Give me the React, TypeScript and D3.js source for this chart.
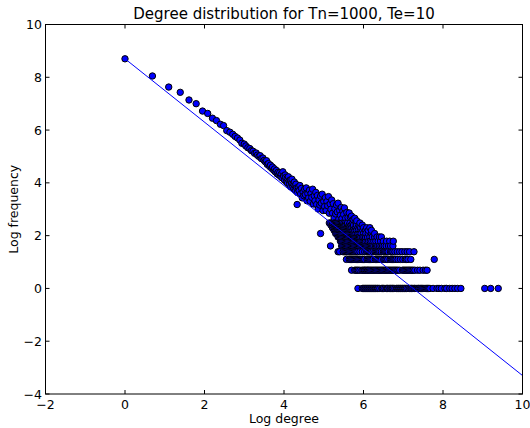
import React from 'react';
import * as d3 from 'd3';

// Low-degree trail and the upper cloud (log degree, log frequency)
const headLogDegree = [
  0.00, 0.69, 1.10, 1.39, 1.61, 1.79, 1.95, 2.08, 2.20, 2.30, 2.40, 2.48, 2.56, 2.64, 2.71, 2.77, 2.83, 2.89, 2.94,
  3.00, 3.04, 3.09, 3.14, 3.18, 3.22, 3.26, 3.30, 3.33, 3.37, 3.40, 3.43, 3.47, 3.50, 3.53, 3.56, 3.58, 3.61, 3.64,
  3.66, 3.69, 3.71, 3.74, 3.76, 3.78, 3.81, 3.83, 3.85, 3.87, 3.89, 3.91, 3.93, 3.95, 3.97, 3.99, 4.01, 4.03, 4.04,
  4.06, 4.08, 4.09, 4.11, 4.13, 4.14, 4.16, 4.17, 4.19, 4.20, 4.22, 4.23, 4.25, 4.26, 4.28, 4.29, 4.30, 4.32, 4.33,
  4.34, 4.36, 4.38, 4.40, 4.42, 4.44, 4.46, 4.48, 4.50, 4.52, 4.54, 4.56, 4.58, 4.60, 4.62, 4.64, 4.66, 4.68, 4.70,
  4.72, 4.74, 4.76, 4.78, 4.80, 4.82, 4.84, 4.86, 4.88, 4.90, 4.92, 4.94, 4.96, 4.98, 5.00, 5.02, 5.04, 5.06, 5.08,
  5.10, 5.12, 5.14, 5.16, 5.18, 5.20, 5.22, 5.24, 5.26, 5.28, 5.30, 5.32, 5.34, 5.36, 5.38, 5.40, 5.42, 5.44, 5.46,
  5.48, 5.50, 5.52, 5.55, 5.58, 5.61, 5.64, 5.67, 5.70, 5.74, 5.78, 5.83,
];
const headLogFreq = [
  8.70, 8.05, 7.63, 7.43, 7.14, 7.00, 6.72, 6.63, 6.45, 6.36, 6.22, 6.17, 5.98, 5.92, 5.84, 5.76, 5.70, 5.62, 5.50,
  5.47, 5.40, 5.33, 5.30, 5.22, 5.20, 5.12, 5.13, 5.05, 5.00, 5.03, 4.92, 4.94, 4.85, 4.80, 4.84, 4.70, 4.73, 4.62,
  4.67, 4.55, 4.60, 4.48, 4.53, 4.42, 4.47, 4.34, 4.40, 4.30, 4.38, 4.25, 4.33, 4.19, 4.42, 4.26, 4.11, 4.30, 4.20,
  4.04, 4.17, 3.99, 4.23, 4.08, 3.93, 4.11, 3.85, 4.00, 4.14, 3.87, 3.97, 3.78, 4.03, 3.89, 3.71, 3.95, 3.81, 3.18,
  3.63, 3.83, 3.70, 3.90, 3.58, 3.79, 3.43, 3.65, 3.51, 3.76, 3.55, 3.81, 3.32, 3.59, 3.43, 3.72, 3.30, 3.60, 3.45,
  3.76, 3.20, 3.51, 3.32, 3.64, 3.18, 3.52, 3.01, 3.35, 3.16, 3.50, 3.23, 3.57, 2.95, 3.30, 3.10, 3.44, 2.95, 3.29,
  3.13, 3.48, 2.85, 3.20, 3.00, 3.35, 2.85, 3.21, 2.67, 3.02, 2.82, 3.16, 2.90, 3.23, 2.63, 2.95, 2.77, 3.07, 2.65,
  2.93, 2.80, 3.05, 2.66, 2.88, 2.69, 2.86, 2.70, 2.74, 2.61, 2.66, 2.56,
];

// Low-count rows: log frequency of each row and the log degrees seen on it
const rowLogFreq = [0, 0.69, 1.10, 1.39, 1.61, 1.79, 1.95, 2.08, 2.20, 2.30, 2.40, 2.48];
const rowLogDegrees = [
  [5.86, 5.97, 6.00, 6.03, 6.05, 6.08, 6.10, 6.13, 6.15, 6.18, 6.20, 6.23, 6.25, 6.28, 6.30, 6.32, 6.35, 6.37, 6.41,
   6.46, 6.48, 6.50, 6.54, 6.58, 6.60, 6.62, 6.66, 6.68, 6.71, 6.73, 6.75, 6.79, 6.83, 6.85, 6.88, 6.90, 6.93, 6.95,
   6.98, 7.00, 7.03, 7.05, 7.08, 7.12, 7.16, 7.19, 7.21, 7.24, 7.27, 7.29, 7.32, 7.35, 7.38, 7.40, 7.43, 7.46, 7.49,
   7.52, 7.55, 7.58, 7.61, 7.64, 7.67, 7.75, 7.85, 7.90, 7.96, 8.05, 8.09, 8.17, 8.23, 8.30, 8.37, 8.45, 9.05, 9.20, 9.39],
  [5.70, 5.78, 5.81, 5.84, 5.87, 5.91, 5.96, 5.99, 6.02, 6.04, 6.07, 6.10, 6.12, 6.15, 6.18, 6.21, 6.24, 6.27, 6.30,
   6.33, 6.36, 6.39, 6.42, 6.45, 6.48, 6.51, 6.54, 6.57, 6.60, 6.63, 6.66, 6.69, 6.72, 6.75, 6.78, 6.81, 6.84, 6.87,
   6.91, 6.98, 7.01, 7.04, 7.07, 7.10, 7.13, 7.16, 7.19, 7.22, 7.25, 7.29, 7.36, 7.42, 7.50, 7.56, 7.60],
  [5.57, 5.64, 5.67, 5.70, 5.73, 5.76, 5.79, 5.82, 5.85, 5.88, 5.91, 5.94, 5.97, 6.00, 6.03, 6.09, 6.12, 6.15, 6.18,
   6.21, 6.24, 6.30, 6.33, 6.36, 6.39, 6.42, 6.45, 6.51, 6.54, 6.57, 6.61, 6.67, 6.70, 6.73, 6.76, 6.79, 6.82, 6.87,
   6.93, 6.99, 7.05, 7.08, 7.12, 7.19, 7.78],
  [5.36, 5.40, 5.49, 5.53, 5.56, 5.59, 5.62, 5.65, 5.68, 5.71, 5.74, 5.77, 5.80, 5.83, 5.86, 5.91, 5.97, 6.03, 6.08,
   6.11, 6.14, 6.17, 6.20, 6.24, 6.29, 6.32, 6.35, 6.38, 6.41, 6.45, 6.50, 6.53, 6.56, 6.59, 6.62, 6.68, 6.71, 6.74,
   6.79, 6.85, 6.91, 6.97, 7.04, 7.10, 7.16, 7.27],
  [5.17, 5.45, 5.48, 5.51, 5.54, 5.57, 5.60, 5.63, 5.66, 5.69, 5.72, 5.75, 5.78, 5.81, 5.84, 5.87, 5.90, 5.93, 5.96,
   5.99, 6.02, 6.05, 6.08, 6.11, 6.14, 6.17, 6.20, 6.23, 6.26, 6.30, 6.33, 6.36, 6.40, 6.44, 6.48, 6.52, 6.57, 6.63,
   6.68, 6.74],
  [5.42, 5.45, 5.48, 5.51, 5.54, 5.57, 5.60, 5.63, 5.66, 5.69, 5.72, 5.75, 5.78, 5.81, 5.84, 5.87, 5.90, 5.93, 5.96,
   5.99, 6.02, 6.05, 6.09, 6.13, 6.17, 6.21, 6.26, 6.31, 6.37, 6.43, 6.50, 6.58, 6.66, 6.75],
  [5.36, 5.39, 5.42, 5.45, 5.48, 5.51, 5.54, 5.57, 5.60, 5.63, 5.66, 5.69, 5.72, 5.75, 5.78, 5.81, 5.84, 5.87, 5.90,
   5.93, 5.97, 6.01, 6.05, 6.10, 6.16, 6.22, 6.28, 6.34, 6.40, 6.45],
  [4.92, 5.30, 5.33, 5.36, 5.39, 5.42, 5.45, 5.48, 5.51, 5.54, 5.57, 5.60, 5.63, 5.66, 5.69, 5.72, 5.75, 5.78, 5.81,
   5.85, 5.89, 5.94, 6.00, 6.06, 6.12, 6.20, 6.28],
  [5.26, 5.29, 5.32, 5.35, 5.38, 5.41, 5.44, 5.47, 5.50, 5.53, 5.56, 5.59, 5.62, 5.65, 5.68, 5.71, 5.74, 5.78, 5.82,
   5.87, 5.92, 5.98, 6.05, 6.12, 6.20],
  [5.22, 5.26, 5.29, 5.32, 5.35, 5.38, 5.41, 5.44, 5.47, 5.50, 5.53, 5.56, 5.59, 5.62, 5.65, 5.68, 5.71, 5.75, 5.80,
   5.86, 5.93, 6.00, 6.08, 6.16],
  [5.18, 5.22, 5.26, 5.29, 5.32, 5.35, 5.38, 5.41, 5.44, 5.47, 5.50, 5.53, 5.56, 5.60, 5.64, 5.69, 5.75, 5.82, 5.89, 5.97],
  [5.14, 5.18, 5.22, 5.26, 5.29, 5.32, 5.35, 5.38, 5.41, 5.44, 5.47, 5.51, 5.55, 5.60, 5.66, 5.73, 5.81, 5.91],
];

// Fitted line end points
const fitLogDegree = [0, 10];
const fitLogFreq = [8.7, -3.3];

const xTickValues = [-2, 0, 2, 4, 6, 8, 10];
const yTickValues = [-4, -2, 0, 2, 4, 6, 8, 10];

const FONT = '"DejaVu Sans", sans-serif';

export default function App() {
  const W = 530, H = 428;
  const L = 45.5, R = 522.5, T = 24.5, B = 394;
  const x = d3.scaleLinear().domain([-2, 10]).range([L, R]);
  const y = d3.scaleLinear().domain([-4, 10]).range([B, T]);

  const pts: [number, number][] = [];
  headLogDegree.forEach((d, i) => pts.push([d, headLogFreq[i]]));
  rowLogDegrees.forEach((row, j) => row.forEach((d) => pts.push([d, rowLogFreq[j]])));
  pts.sort((a, b) => a[0] - b[0]);

  const fit = fitLogDegree.map((d, i) => [d, fitLogFreq[i]] as [number, number]);
  const linePath = d3.line<[number, number]>().x((d) => x(d[0])).y((d) => y(d[1]))(fit) || '';

  const fmt = (v: number) => (v < 0 ? '\u2212' + Math.abs(v) : String(v));
  const tk = 4;

  return (
    <svg width={W} height={H} style={{ position: 'absolute', left: 0, top: 0, background: '#fff' }}>
      <defs>
        <clipPath id="plotclip">
          <rect x={L} y={T} width={R - L} height={B - T} />
        </clipPath>
      </defs>
      <rect x={0} y={0} width={W} height={H} fill="#fff" />
      <g clipPath="url(#plotclip)">
        {pts.map((p, i) => (
          <circle key={i} cx={x(p[0])} cy={y(p[1])} r={3.2} fill="#0000ff" stroke="#000" strokeWidth={1} />
        ))}
        <path d={linePath} fill="none" stroke="#0000ff" strokeWidth={1} />
      </g>
      <rect x={L} y={T} width={R - L} height={B - T} fill="none" stroke="#000" strokeWidth={1} />
      {xTickValues.map((v) => (
        <g key={'x' + v}>
          <line x1={x(v)} x2={x(v)} y1={B} y2={B - tk} stroke="#000" />
          <line x1={x(v)} x2={x(v)} y1={T} y2={T + tk} stroke="#000" />
          <text x={x(v)} y={409} textAnchor="middle" fontFamily={FONT} fontSize={12.5} fill="#000">{fmt(v)}</text>
        </g>
      ))}
      {yTickValues.map((v) => (
        <g key={'y' + v}>
          <line x1={L} x2={L + tk} y1={y(v)} y2={y(v)} stroke="#000" />
          <line x1={R} x2={R - tk} y1={y(v)} y2={y(v)} stroke="#000" />
          <text x={42} y={y(v) + 4.5} textAnchor="end" fontFamily={FONT} fontSize={12.5} fill="#000">{fmt(v)}</text>
        </g>
      ))}
      <text x={(L + R) / 2} y={19} textAnchor="middle" fontFamily={FONT} fontSize={15} fill="#000">
        Degree distribution for Tn=1000, Te=10
      </text>
      <text x={(L + R) / 2} y={423} textAnchor="middle" fontFamily={FONT} fontSize={12.5} fill="#000">Log degree</text>
      <text transform={`translate(18,${(T + B) / 2}) rotate(-90)`} textAnchor="middle" fontFamily={FONT} fontSize={12.5} fill="#000">
        Log frequency
      </text>
    </svg>
  );
}
